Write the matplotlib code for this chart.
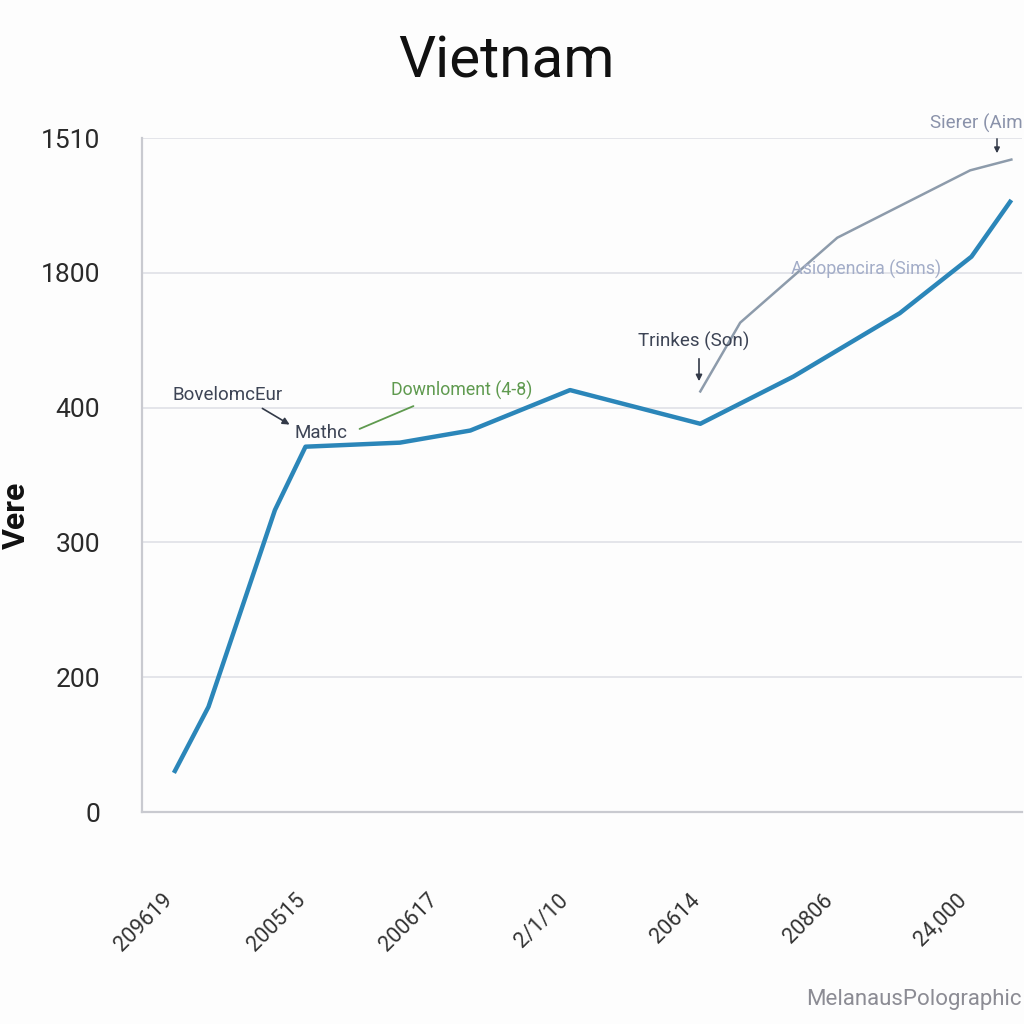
import matplotlib
matplotlib.use("Agg")
import matplotlib.pyplot as plt

plt.rcParams['font.family'] = ['Roboto', 'DejaVu Sans']

# tick labels as printed on the chart
x_labels = ["209619", "200515", "200617", "2/1/10", "20614", "20806", "24,000"]
y_labels = ["0", "200", "300", "400", "1800", "1510"]

# main series (x in tick units, y in gridline units)
main_x = [0.23, 0.49, 0.99, 1.22, 1.93, 2.46, 3.21, 4.19, 4.89, 5.69, 6.23, 6.53]
main_y = [0.29, 0.78, 2.24, 2.71, 2.74, 2.83, 3.13, 2.88, 3.23, 3.70, 4.12, 4.54]

# secondary grey series
sec_x = [4.19, 4.49, 5.22, 6.22, 6.53]
sec_y = [3.12, 3.63, 4.26, 4.76, 4.84]

W = 1024


def px(x, y):
    # pixel position -> figure fraction
    return (x / W, 1 - y / W)


fig = plt.figure(figsize=(10.24, 10.24), dpi=100, facecolor='#fdfdfd')
ax = fig.add_axes([142 / W, 1 - 812 / W, 880 / W, 674 / W])
ax.set_facecolor('#fdfdfd')

ax.plot(main_x, main_y, color='#2b86b9', lw=3.2, solid_capstyle='butt', zorder=3)
ax.plot(sec_x, sec_y, color='#8d9bab', lw=1.8, zorder=2)

ax.set_xlim(-0.01, 6.61)
ax.set_ylim(0, 5)
ax.set_yticks(range(len(y_labels)))
ax.set_yticklabels(y_labels, fontsize=19, color='#2a2a2a')
ax.set_xticks(range(len(x_labels)))
ax.set_xticklabels(x_labels, fontsize=15.5, color='#333333', rotation=45)
ax.tick_params(axis='y', length=0, pad=30)
ax.tick_params(axis='x', length=0, pad=56)

ax.grid(axis='y', color='#e2e3e8', lw=1.3)
ax.set_axisbelow(True)
for s in ['top', 'right']:
    ax.spines[s].set_visible(False)
for s in ['left', 'bottom']:
    ax.spines[s].set_color('#c9cad0')
    ax.spines[s].set_linewidth(1.6)

fig.text(*px(506, 62), "Vietnam", fontsize=42, ha='center', va='center', color='#111111')
fig.text(*px(16, 515), "Vere", fontsize=23, fontweight='bold', rotation=90,
         ha='center', va='center', color='#111111')

# annotations
fig.text(*px(173, 395), "BovelomcEur", fontsize=13.5, color='#3d4455', va='center')
ax.annotate("", xy=px(292, 426), xytext=px(260, 407), xycoords='figure fraction',
            textcoords='figure fraction',
            arrowprops=dict(arrowstyle='-|>', color='#333a48', lw=1.2, mutation_scale=10))
fig.text(*px(295, 433), "Mathc", fontsize=13.5, color='#3d4455', va='center')

fig.text(*px(391, 390), "Downloment (4-8)", fontsize=12.8, color='#5f9a4f', va='center')
ax.annotate("", xy=px(357, 430), xytext=px(416, 405), xycoords='figure fraction',
            textcoords='figure fraction',
            arrowprops=dict(arrowstyle='-', color='#5f9a4f', lw=1.3))

fig.text(*px(638, 341), "Trinkes (Son)", fontsize=13.5, color='#3d4455', va='center')
ax.annotate("", xy=px(699, 384), xytext=px(699, 356), xycoords='figure fraction',
            textcoords='figure fraction',
            arrowprops=dict(arrowstyle='-|>', color='#333a48', lw=1.2, mutation_scale=9))

fig.text(*px(791, 269), "Asiopencira (Sims)", fontsize=12.8, color='#a3adc8', va='center')

fig.text(*px(930, 123), "Sierer (Aim", fontsize=13.5, color='#8a92aa', va='center')
ax.annotate("", xy=px(997, 156), xytext=px(997, 136), xycoords='figure fraction',
            textcoords='figure fraction',
            arrowprops=dict(arrowstyle='-|>', color='#333a48', lw=1.1, mutation_scale=8))

fig.text(*px(806, 999), "MelanausPolographic", fontsize=16, color='#8c8c94', va='center')

fig.savefig('out.png', dpi=100, facecolor=fig.get_facecolor())
